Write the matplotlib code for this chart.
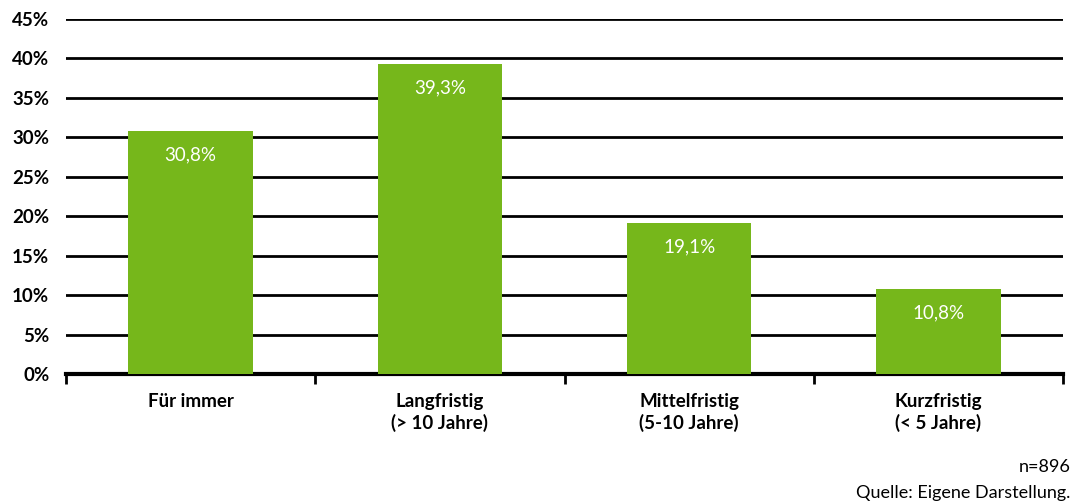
import matplotlib.pyplot as plt
import numpy as np

plt.rcParams['font.family'] = ['Lato', 'DejaVu Sans']

categories = ['Für immer', 'Langfristig\n(> 10 Jahre)', 'Mittelfristig\n(5-10 Jahre)', 'Kurzfristig\n(< 5 Jahre)']
values = [30.8, 39.3, 19.1, 10.8]
yticks = [0, 5, 10, 15, 20, 25, 30, 35, 40, 45]

fig = plt.figure(figsize=(10.73, 5.01), dpi=100)
ax = fig.add_axes([0.0615, 0.2535, 0.9292, 0.7085])

x = np.arange(len(categories))
ax.set_axisbelow(True)
ax.yaxis.grid(True, color='black', linewidth=2)
ax.bar(x, values, width=0.5, color='#76b71b', zorder=3)

for xi, v in zip(x, values):
    ax.text(xi, v - 3.0, f'{v:.1f}%'.replace('.', ','), ha='center', va='center',
            color='white', fontsize=13.5, zorder=4)

ax.set_xlim(-0.5, len(categories) - 0.5)
ax.set_ylim(0, 45)
ax.set_yticks(yticks)
ax.set_yticklabels([f'{t}%' for t in yticks], fontsize=13.5, fontweight='bold')
ax.tick_params(axis='y', length=0, pad=12)

ax.set_xticks(np.arange(-0.5, len(categories), 1.0))
ax.set_xticklabels([])
ax.set_xticks(x, minor=True)
ax.set_xticklabels(categories, minor=True, fontsize=13.5, fontweight='bold', linespacing=1.25)
ax.tick_params(axis='x', which='major', length=7, width=2, direction='out')
ax.tick_params(axis='x', which='minor', length=0, pad=14)

for s in ['top', 'right', 'left']:
    ax.spines[s].set_visible(False)
ax.spines['bottom'].set_linewidth(3)

fig.text(0.998, 0.068, 'n=896', ha='right', va='center', fontsize=13)
fig.text(0.998, 0.016, 'Quelle: Eigene Darstellung.', ha='right', va='center', fontsize=13)

fig.savefig('out.png', dpi=100)
